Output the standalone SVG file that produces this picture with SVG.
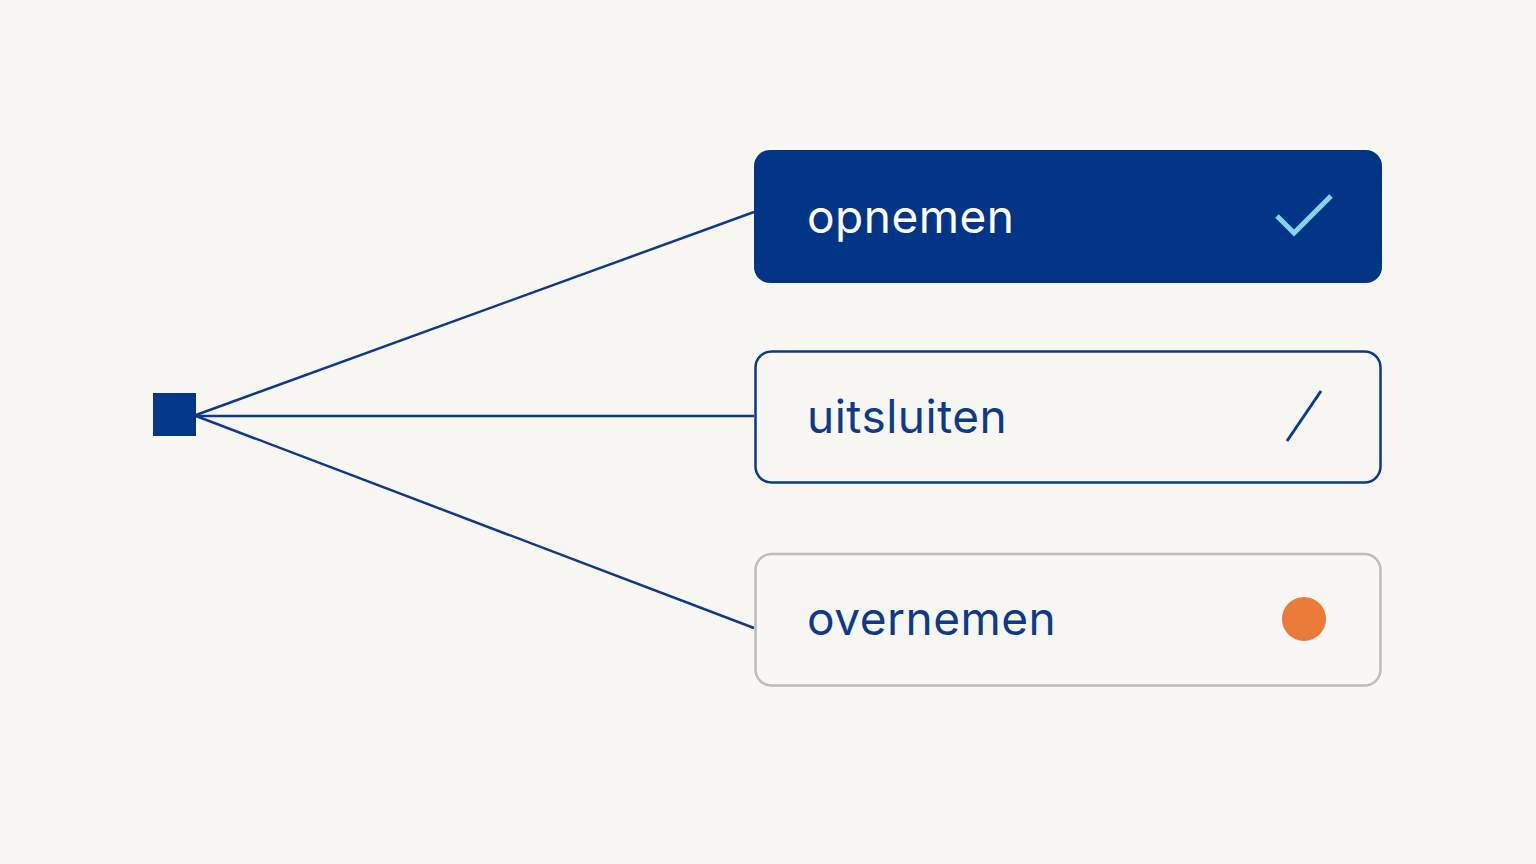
<svg xmlns="http://www.w3.org/2000/svg" width="1536" height="864" viewBox="0 0 1536 864">
<style>
.lbl{font-family:Inter,"Noto Sans",sans-serif;font-size:46px;letter-spacing:0.5px;}
.conn{stroke:#0d3a8a;stroke-width:2.5;fill:none;}
</style>
<rect width="1536" height="864" fill="#f9f7f3"/>
<g id="connectors">
<line class="conn" x1="196" y1="415" x2="754" y2="212"/>
<line class="conn" x1="196" y1="416" x2="754" y2="416"/>
<line class="conn" x1="196" y1="416" x2="754" y2="628"/>
</g>
<g id="source">
<rect x="153" y="393" width="43" height="43" fill="#023887"/>
</g>
<g id="node-opnemen">
<rect x="754" y="150" width="628" height="133" rx="16" fill="#023585"/>
<text class="lbl" x="807" y="233" fill="#ffffff">opnemen</text>
<polyline points="1277,216 1294,233 1331,196" fill="none" stroke="#85d3f7" stroke-width="5"/>
</g>
<g id="node-uitsluiten">
<rect x="755.5" y="351.5" width="625" height="131" rx="16" fill="#f9f7f3" stroke="#0d3a8a" stroke-width="2.5"/>
<text class="lbl" x="807" y="433" fill="#0d3a8a">uitsluiten</text>
<line x1="1287" y1="441" x2="1321" y2="391" stroke="#0d3a8a" stroke-width="3"/>
</g>
<g id="node-overnemen">
<rect x="755.5" y="554" width="625" height="131.5" rx="16" fill="#f9f7f3" stroke="#bdbcba" stroke-width="2.5"/>
<text class="lbl" x="807" y="635" fill="#0d3a8a">overnemen</text>
<circle cx="1304" cy="619" r="22" fill="#e97a38"/>
</g>
</svg>
